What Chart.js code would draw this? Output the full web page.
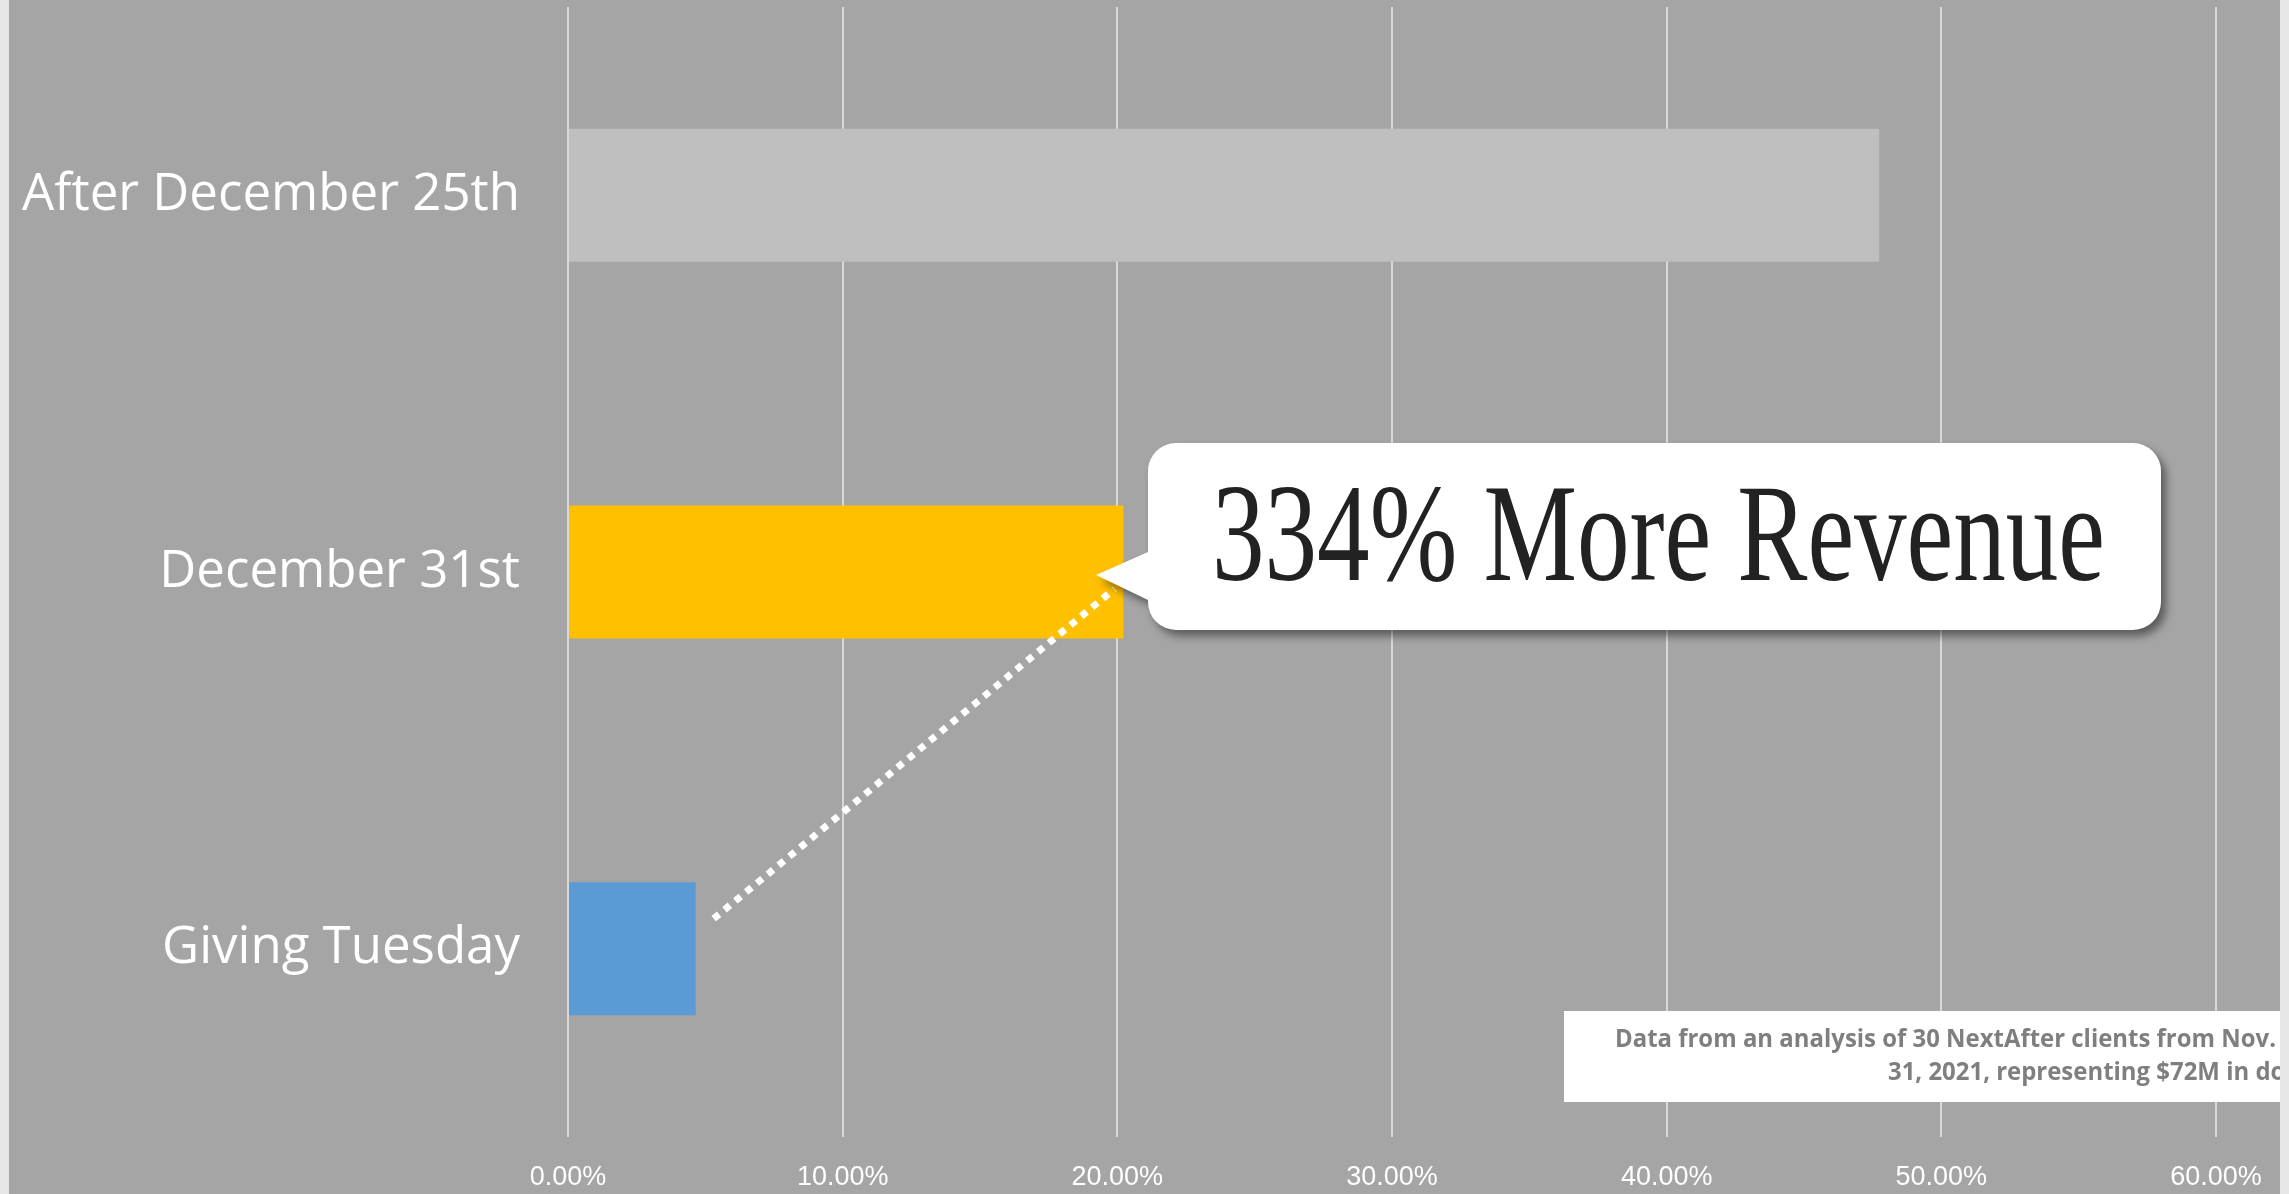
<!DOCTYPE html>
<html>
<head>
<meta charset="utf-8">
<script src="https://cdn.jsdelivr.net/npm/chart.js@4.4.1/dist/chart.umd.min.js"></script>
<style>
  html, body { margin: 0; padding: 0; background: #e6e6e6; }
  canvas { display: block; }
</style>
</head>
<body>
<canvas id="chart" width="2289" height="1194"></canvas>
<script>
const categories = ['After December 25th', 'December 31st', 'Giving Tuesday'];
const shares = [47.74, 20.22, 4.65];
const barColors = ['#bfbfbf', '#ffc000', '#5b9bd5'];
const xTicks = [0, 10, 20, 30, 40, 50, 60];
const calloutText = '334% More Revenue';
const noteLines = [
  'Data from an analysis of 30 NextAfter clients from Nov.',
  '31, 2021, representing $72M in donations'
];

// grey slide background with light strips on the sides
const background = {
  id: 'background',
  beforeDraw(chart) {
    let ctx = chart.ctx;
    ctx.save();
    ctx.fillStyle = '#e6e6e6';
    ctx.fillRect(0, 0, chart.width, chart.height);
    ctx.fillStyle = '#a5a5a5';
    ctx.fillRect(9, 0, 2271, chart.height);
    ctx.restore();
  }
};

const callout = {
  id: 'callout',
  afterDraw(chart) {
    let ctx = chart.ctx;
    let x = chart.scales.x;
    let y = chart.scales.y;

    // dotted line from Giving Tuesday bar to December 31st bar
    ctx.save();
    ctx.strokeStyle = '#ffffff';
    ctx.lineWidth = 7;
    ctx.setLineDash([7, 7]);
    ctx.beginPath();
    ctx.moveTo(x.getPixelForValue(shares[2]) + 18, y.getPixelForValue(2) - 30);
    ctx.lineTo(x.getPixelForValue(shares[1]) - 9, y.getPixelForValue(1) + 17);
    ctx.stroke();
    ctx.restore();

    // speech bubble
    let l = 1148, t = 443, r = 2161, b = 630, rad = 28;
    ctx.save();
    ctx.shadowColor = 'rgba(0,0,0,0.45)';
    ctx.shadowBlur = 8;
    ctx.shadowOffsetX = 5;
    ctx.shadowOffsetY = 6;
    ctx.fillStyle = '#ffffff';
    ctx.beginPath();
    ctx.moveTo(l + rad, t);
    ctx.lineTo(r - rad, t);
    ctx.arcTo(r, t, r, t + rad, rad);
    ctx.lineTo(r, b - rad);
    ctx.arcTo(r, b, r - rad, b, rad);
    ctx.lineTo(l + rad, b);
    ctx.arcTo(l, b, l, b - rad, rad);
    ctx.lineTo(l, 600);
    ctx.lineTo(1096, 575);
    ctx.lineTo(l, 552);
    ctx.lineTo(l, t + rad);
    ctx.arcTo(l, t, l + rad, t, rad);
    ctx.closePath();
    ctx.fill();
    ctx.restore();

    ctx.save();
    ctx.font = '140px "Liberation Serif"';
    ctx.fillStyle = '#222222';
    ctx.textBaseline = 'alphabetic';
    let w = ctx.measureText(calloutText).width;
    ctx.translate(1212, 580);
    ctx.scale(893 / w, 1);
    ctx.fillText(calloutText, 0, 0);
    ctx.restore();

    // source note box, cut off at the right edge
    ctx.save();
    ctx.fillStyle = '#ffffff';
    ctx.fillRect(1564, 1011, 716, 91);
    ctx.beginPath();
    ctx.rect(1564, 1011, 716, 91);
    ctx.clip();
    ctx.fillStyle = '#7f7f7f';
    ctx.font = 'bold 25px "Open Sans"';
    ctx.textBaseline = 'middle';
    let sx = 661 / ctx.measureText(noteLines[0]).width;
    ctx.save();
    ctx.translate(1615, 1040);
    ctx.scale(sx, 1);
    ctx.fillText(noteLines[0], 0, 0);
    ctx.restore();
    ctx.translate(1888, 1073);
    ctx.scale(sx, 1);
    ctx.fillText(noteLines[1], 0, 0);
    ctx.restore();
  }
};

new Chart(document.getElementById('chart'), {
  type: 'bar',
  data: {
    labels: categories,
    datasets: [{
      data: shares,
      backgroundColor: barColors,
      barPercentage: 0.353,
      categoryPercentage: 1
    }]
  },
  options: {
    indexAxis: 'y',
    responsive: false,
    animation: false,
    layout: { padding: { top: 7, right: 73, left: 0, bottom: 0 } },
    plugins: {
      legend: { display: false },
      tooltip: { enabled: false }
    },
    scales: {
      x: {
        min: 0,
        max: 60,
        afterBuildTicks: axis => { axis.ticks = xTicks.map(v => ({ value: v })); },
        afterFit: axis => {
          axis.height = 57;
          axis.paddingLeft = 0;
          axis.paddingRight = 0;
        },
        grid: { color: '#d9d9d9', lineWidth: 2, drawTicks: false },
        border: { display: false },
        ticks: {
          color: '#ffffff',
          font: { family: 'Liberation Sans', size: 27 },
          padding: 24,
          maxRotation: 0,
          callback: v => v.toFixed(2) + '%'
        }
      },
      y: {
        afterFit: axis => {
          axis.width = 568;
          axis.paddingTop = 0;
          axis.paddingBottom = 0;
        },
        grid: { display: false },
        border: { display: false },
        ticks: {
          color: '#ffffff',
          font: { family: 'Open Sans', size: 51 },
          padding: 40
        }
      }
    }
  },
  plugins: [background, callout]
});
</script>
</body>
</html>
